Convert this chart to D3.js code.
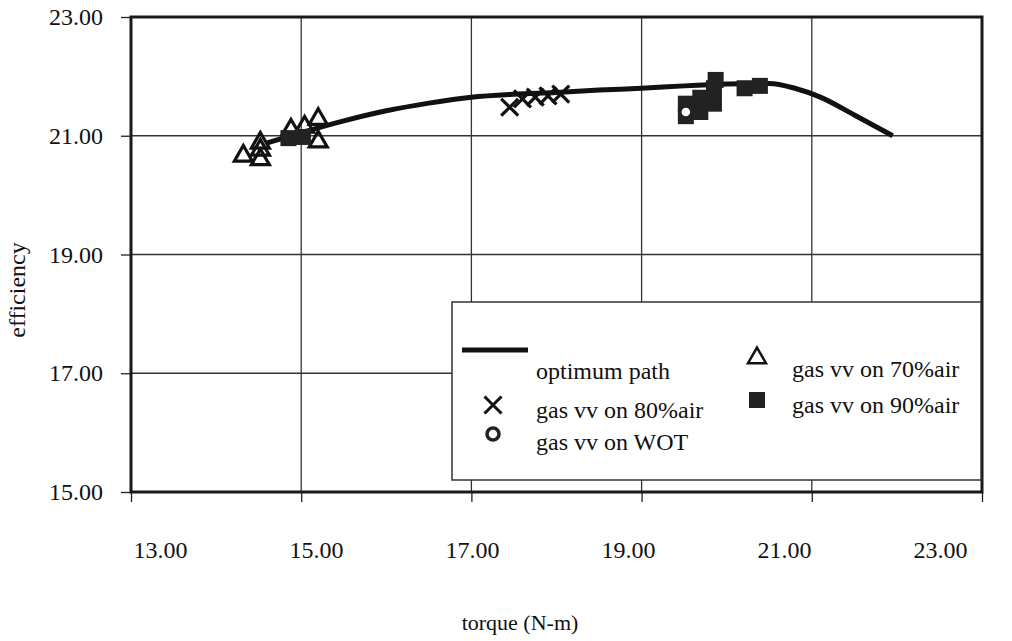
<!DOCTYPE html>
<html>
<head>
<meta charset="utf-8">
<script src="https://cdn.jsdelivr.net/npm/d3@7"></script>
<style>
  body { margin: 0; background: #fff; }
  svg { font-family: "Liberation Serif", "DejaVu Serif", serif; }
</style>
</head>
<body>
<svg id="chart" width="1012" height="641"></svg>
<script>
// data ************************************************************
var xTicks = [13, 15, 17, 19, 21, 23];
var yTicks = [15, 17, 19, 21, 23];

var pathTorque = [14.6, 15.0, 15.5, 16.0, 16.5, 17.0, 17.5, 18.0, 18.5, 19.0, 19.5, 20.0, 20.5, 20.8, 21.1, 21.5, 21.95];
var pathEff    = [20.88, 21.05, 21.25, 21.42, 21.55, 21.65, 21.70, 21.73, 21.77, 21.80, 21.84, 21.87, 21.88, 21.80, 21.65, 21.35, 21.0];

var air70Torque = [14.32, 14.52, 14.52, 14.52, 14.88, 15.04, 15.2, 15.2];
var air70Eff    = [20.66, 20.60, 20.76, 20.88, 21.10, 21.15, 21.28, 20.90];

var air80Torque = [17.45, 17.6, 17.75, 17.9, 18.05];
var air80Eff    = [21.48, 21.62, 21.65, 21.67, 21.70];

var wotTorque = [19.52];
var wotEff    = [21.40];

var air90Torque = [14.85, 15.02, 19.52, 19.52, 19.69, 19.69, 19.85, 19.85, 19.87, 20.21, 20.39];
var air90Eff    = [20.96, 20.98, 21.33, 21.54, 21.40, 21.64, 21.54, 21.80, 21.94, 21.80, 21.84];

(function() {
// layout ************************************************************
var pLeft = 131, pRight = 982, pTop = 17, pBottom = 492;
var fs = 24;
var svg = d3.select("#chart");

var x = d3.scaleLinear().domain([13, 23]).range([pLeft, pRight]);
var y = d3.scaleLinear().domain([15, 23]).range([pBottom, pTop]);
// the printed tick labels sit a little compressed against the grid
var xLabel = d3.scaleLinear().domain([13, 23]).range([160, 940]);

function zip(a, b) { return a.map(function(v, i) { return [v, b[i]]; }); }

// grid ************************************************************
svg.append("g").selectAll("line")
  .data(xTicks.slice(1, -1)).enter().append("line")
  .attr("x1", function(d) { return x(d); }).attr("x2", function(d) { return x(d); })
  .attr("y1", pTop).attr("y2", pBottom)
  .attr("stroke", "#333").attr("stroke-width", 1.3);

svg.append("g").selectAll("line")
  .data(yTicks.slice(1, -1)).enter().append("line")
  .attr("y1", function(d) { return y(d); }).attr("y2", function(d) { return y(d); })
  .attr("x1", pLeft).attr("x2", pRight)
  .attr("stroke", "#333").attr("stroke-width", 1.3);

// axes ************************************************************
var yAxis = svg.append("g")
  .attr("transform", "translate(" + pLeft + ",0)")
  .call(d3.axisLeft(y).tickValues(yTicks).tickSize(10).tickPadding(18).tickFormat(d3.format(".2f")));
yAxis.select(".domain").remove();
yAxis.selectAll(".tick line").attr("stroke", "#222").attr("stroke-width", 1.3);
yAxis.selectAll("text").attr("font-size", fs).attr("fill", "#111").attr("font-family", "Liberation Serif");

var xAxis = svg.append("g")
  .attr("transform", "translate(0," + pBottom + ")")
  .call(d3.axisBottom(x).tickValues(xTicks).tickSize(10).tickFormat(""));
xAxis.select(".domain").remove();
xAxis.selectAll(".tick line").attr("stroke", "#222").attr("stroke-width", 1.3);

var xAxisLabels = svg.append("g")
  .attr("transform", "translate(0," + (pBottom + 46) + ")")
  .call(d3.axisBottom(xLabel).tickValues(xTicks).tickSize(0).tickFormat(d3.format(".2f")));
xAxisLabels.select(".domain").remove();
xAxisLabels.selectAll("text").attr("font-size", fs).attr("fill", "#111").attr("font-family", "Liberation Serif");

// frame
svg.append("rect")
  .attr("x", pLeft).attr("y", pTop)
  .attr("width", pRight - pLeft).attr("height", pBottom - pTop)
  .attr("fill", "none").attr("stroke", "#1a1a1a").attr("stroke-width", 3);

svg.append("text")
  .attr("transform", "translate(25,290) rotate(-90)")
  .attr("text-anchor", "middle")
  .attr("font-size", fs).attr("fill", "#111")
  .text("efficiency");

svg.append("text")
  .attr("x", 520).attr("y", 630)
  .attr("text-anchor", "middle")
  .attr("font-size", 22).attr("fill", "#111")
  .text("torque (N-m)");

// optimum path ************************************************************
var line = d3.line()
  .x(function(d) { return x(d[0]); })
  .y(function(d) { return y(d[1]); })
  .curve(d3.curveMonotoneX);

svg.append("path")
  .datum(zip(pathTorque, pathEff))
  .attr("d", line)
  .attr("fill", "none").attr("stroke", "#111").attr("stroke-width", 5);

// markers ************************************************************
var tri = d3.symbol().type(d3.symbolTriangle).size(140);
var cross = d3.symbol().type(d3.symbolTimes).size(190);

svg.append("g").selectAll("path")
  .data(zip(air70Torque, air70Eff)).enter().append("path")
  .attr("d", tri)
  .attr("transform", function(d) { return "translate(" + x(d[0]) + "," + y(d[1]) + ")"; })
  .attr("fill", "none").attr("stroke", "#111").attr("stroke-width", 3.2);

svg.append("g").selectAll("rect")
  .data(zip(air90Torque, air90Eff)).enter().append("rect")
  .attr("x", function(d) { return x(d[0]) - 8; })
  .attr("y", function(d) { return y(d[1]) - 8; })
  .attr("width", 16).attr("height", 16)
  .attr("fill", "#222");

svg.append("g").selectAll("path")
  .data(zip(air80Torque, air80Eff)).enter().append("path")
  .attr("d", cross)
  .attr("transform", function(d) { return "translate(" + x(d[0]) + "," + y(d[1]) + ")"; })
  .attr("fill", "none").attr("stroke", "#111").attr("stroke-width", 3.2);

svg.append("g").selectAll("circle")
  .data(zip(wotTorque, wotEff)).enter().append("circle")
  .attr("cx", function(d) { return x(d[0]); })
  .attr("cy", function(d) { return y(d[1]); })
  .attr("r", 6)
  .attr("fill", "#fff").attr("stroke", "#222").attr("stroke-width", 3.5);

// legend ************************************************************
var lg = svg.append("g");
lg.append("rect")
  .attr("x", 452).attr("y", 302).attr("width", 529).attr("height", 178)
  .attr("fill", "#fff").attr("stroke", "#333").attr("stroke-width", 1.5);

lg.append("line")
  .attr("x1", 462).attr("x2", 528).attr("y1", 350).attr("y2", 350)
  .attr("stroke", "#111").attr("stroke-width", 5);
lg.append("path").attr("d", cross)
  .attr("transform", "translate(493,405)")
  .attr("fill", "none").attr("stroke", "#111").attr("stroke-width", 3);
lg.append("circle").attr("cx", 493).attr("cy", 434).attr("r", 6)
  .attr("fill", "#fff").attr("stroke", "#222").attr("stroke-width", 3.5);
lg.append("path").attr("d", tri)
  .attr("transform", "translate(757,358)")
  .attr("fill", "none").attr("stroke", "#111").attr("stroke-width", 2.5);
lg.append("rect").attr("x", 749).attr("y", 392).attr("width", 16).attr("height", 16)
  .attr("fill", "#222");

var legendText = [
  ["optimum path", 536, 379],
  ["gas vv on 80%air", 536, 418],
  ["gas vv on WOT", 536, 450],
  ["gas vv on 70%air", 792, 377],
  ["gas vv on 90%air", 792, 413]
];
lg.selectAll("text.lbl")
  .data(legendText).enter().append("text")
  .attr("class", "lbl")
  .attr("x", function(d) { return d[1]; })
  .attr("y", function(d) { return d[2]; })
  .attr("font-size", fs).attr("fill", "#111")
  .text(function(d) { return d[0]; });
})();
</script>
</body>
</html>
